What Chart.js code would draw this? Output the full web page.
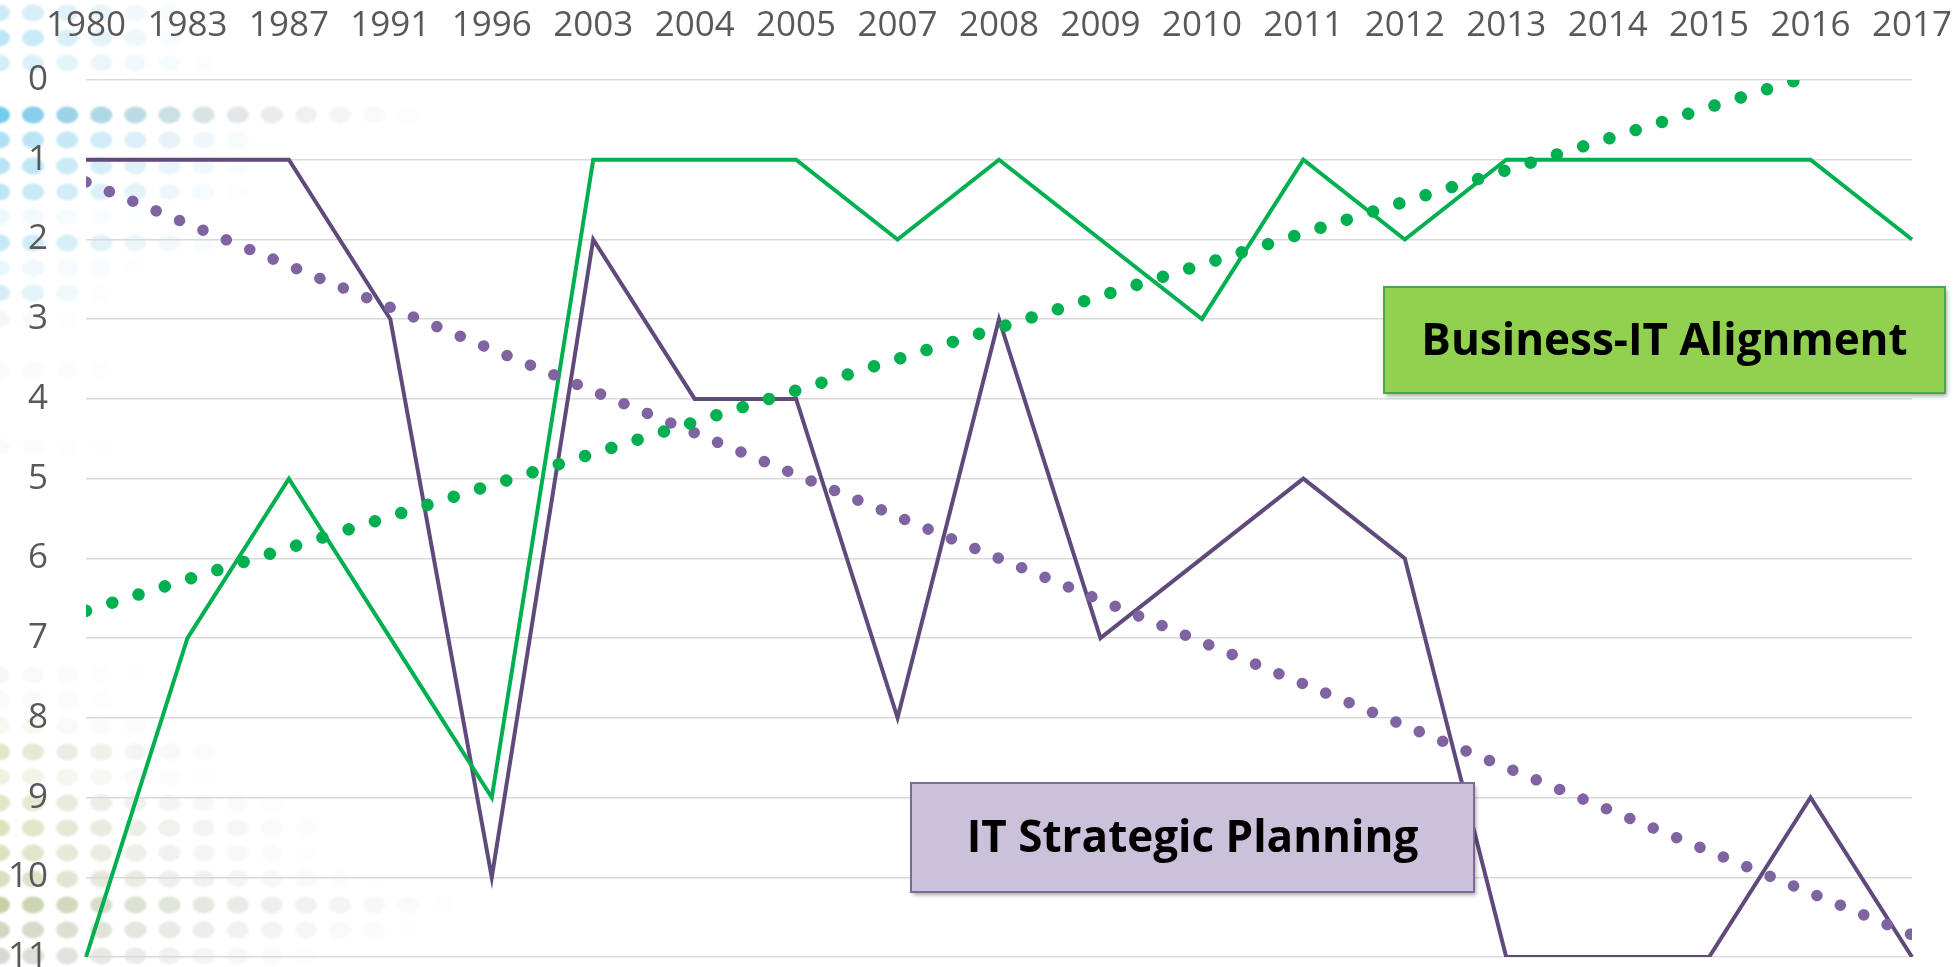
<!DOCTYPE html>
<html>
<head>
<meta charset="utf-8">
<script src="https://cdn.jsdelivr.net/npm/chart.js@4.4.1/dist/chart.umd.min.js"></script>
<style>
  html, body { margin: 0; padding: 0; background: #fff; }
  #wrap { width: 1955px; height: 967px; position: relative; }
</style>
</head>
<body>
<div id="wrap"><canvas id="chart"></canvas></div>
<script>
const years = ["1980", "1983", "1987", "1991", "1996", "2003", "2004", "2005", "2007", "2008",
  "2009", "2010", "2011", "2012", "2013", "2014", "2015", "2016", "2017"];
const alignmentRank = [11, 7, 5, 7, 9, 1, 1, 1, 2, 1, 2, 3, 1, 2, 1, 1, 1, 1, 2];
const planningRank = [1, 1, 1, 3, 10, 2, 4, 4, 8, 3, 7, 6, 5, 6, 11, 11, 11, 9, 11];
const rankMin = 0;
const rankMax = 11;

// linear trendline over the category index, like the spreadsheet does it
function trend(values) {
  const n = values.length;
  const mx = (n - 1) / 2;
  const my = values.reduce((a, b) => a + b, 0) / n;
  let sxy = 0;
  let sxx = 0;
  values.forEach((v, i) => {
    sxy += (i - mx) * (v - my);
    sxx += (i - mx) * (i - mx);
  });
  const slope = sxy / sxx;
  return values.map((v, i) => my + slope * (i - mx));
}

// decorative slide background: rows of soft dots fading to the right
// [y, [r, g, b] near the edge, strength, reach]
const blue = [110, 200, 235];
const olive = [175, 195, 110];
const dotRows = [
  [13, blue, 0.35, 200],
  [38, blue, 0.45, 190],
  [63, blue, 0.3, 220],
  [115, [90, 195, 232], 0.85, 420],
  [140, blue, 0.55, 270],
  [166, blue, 0.5, 260],
  [192, blue, 0.45, 250],
  [217, blue, 0.12, 150],
  [243, blue, 0.4, 230],
  [268, blue, 0.15, 150],
  [293, blue, 0.3, 110],
  [319, [150, 190, 200], 0.12, 90],
  [370, [180, 190, 195], 0.08, 140],
  [447, [180, 185, 185], 0.07, 120],
  [675, [170, 175, 160], 0.1, 160],
  [700, [170, 175, 160], 0.08, 140],
  [726, olive, 0.12, 200],
  [752, olive, 0.4, 230],
  [777, olive, 0.22, 220],
  [803, olive, 0.4, 290],
  [828, olive, 0.45, 340],
  [853, olive, 0.45, 310],
  [879, [165, 185, 115], 0.45, 380],
  [905, [160, 178, 110], 0.6, 470],
  [930, [165, 175, 130], 0.5, 420],
  [956, [165, 170, 150], 0.45, 330]
];
const grey = [190, 190, 190];

const dotsBackground = {
  id: "dotsBackground",
  beforeDraw(chart) {
    const ctx = chart.ctx;
    ctx.save();
    ctx.filter = "blur(1.2px)";
    dotRows.forEach(([y, rgb, s, reach]) => {
      for (let x = -1; x < reach; x += 34.1) {
        const t = Math.max(x, 0) / reach;
        const a = s * (1 - t);
        if (a <= 0) continue;
        const mix = Math.min(1, t * 1.6);
        const c = rgb.map((v, k) => Math.round(v + (grey[k] - v) * mix * (rgb === blue ? 0.2 : 1)));
        ctx.fillStyle = `rgba(${c[0]}, ${c[1]}, ${c[2]}, ${a.toFixed(3)})`;
        ctx.beginPath();
        ctx.ellipse(x, y, 11, 8.5, 0, 0, Math.PI * 2);
        ctx.fill();
      }
    });
    ctx.restore();
  }
};

const labelBoxes = [
  { text: "Business-IT Alignment", x: 1384, y: 287, w: 561, h: 106, fill: "#92D050", stroke: "#45A84B" },
  { text: "IT Strategic Planning", x: 911, y: 783, w: 563, h: 109, fill: "#CCC1DA", stroke: "#7D6A99" }
];

const seriesLabels = {
  id: "seriesLabels",
  afterDraw(chart) {
    const ctx = chart.ctx;
    labelBoxes.forEach((box) => {
      ctx.save();
      ctx.shadowColor = "rgba(0, 0, 0, 0.35)";
      ctx.shadowBlur = 4;
      ctx.shadowOffsetX = 2;
      ctx.shadowOffsetY = 3;
      ctx.fillStyle = box.fill;
      ctx.fillRect(box.x, box.y, box.w, box.h);
      ctx.restore();

      ctx.save();
      ctx.strokeStyle = box.stroke;
      ctx.lineWidth = 2;
      ctx.strokeRect(box.x, box.y, box.w, box.h);
      ctx.fillStyle = "#000";
      ctx.font = "bold 44px 'Open Sans'";
      ctx.textAlign = "center";
      ctx.textBaseline = "middle";
      ctx.fillText(box.text, box.x + box.w / 2, box.y + box.h / 2 + 2);
      ctx.restore();
    });
  }
};

const tickFont = { family: "'Open Sans'", size: 35 };

new Chart(document.getElementById("chart"), {
  type: "line",
  data: {
    labels: years,
    datasets: [
      {
        label: "Business-IT Alignment trend",
        data: trend(alignmentRank),
        borderColor: "#00B050",
        borderWidth: 12.5,
        borderDash: [0.001, 27.5],
        borderCapStyle: "round",
        pointRadius: 0,
        clip: 0
      },
      {
        label: "IT Strategic Planning trend",
        data: trend(planningRank),
        borderColor: "#8064A2",
        borderWidth: 11.5,
        borderDash: [0.001, 25.3],
        borderCapStyle: "round",
        pointRadius: 0,
        clip: 0
      },
      {
        label: "Business-IT Alignment",
        data: alignmentRank,
        borderColor: "#00B050",
        borderWidth: 4,
        pointRadius: 0,
        tension: 0
      },
      {
        label: "IT Strategic Planning",
        data: planningRank,
        borderColor: "#604A7B",
        borderWidth: 4,
        pointRadius: 0,
        tension: 0
      }
    ]
  },
  options: {
    responsive: true,
    maintainAspectRatio: false,
    animation: false,
    layout: { padding: { top: 0, right: 43, bottom: 10, left: 0 } },
    plugins: {
      legend: { display: false },
      tooltip: { enabled: false }
    },
    scales: {
      x: {
        position: "top",
        grid: { display: false, drawTicks: false },
        border: { display: false },
        ticks: {
          font: tickFont,
          color: "#595959",
          padding: 33,
          autoSkip: false,
          maxRotation: 0
        },
        afterFit(scale) {
          scale.height = 80;
          scale.paddingLeft = 0;
          scale.paddingRight = 0;
        }
      },
      y: {
        reverse: true,
        min: rankMin,
        max: rankMax,
        grid: { color: "#D9D9D9", lineWidth: 1.5, drawTicks: false },
        border: { display: false },
        ticks: {
          stepSize: 1,
          font: tickFont,
          color: "#595959",
          padding: 38
        },
        afterFit(scale) {
          scale.width = 86;
          scale.paddingTop = 0;
          scale.paddingBottom = 0;
        }
      }
    }
  },
  plugins: [dotsBackground, seriesLabels]
});
</script>
</body>
</html>
